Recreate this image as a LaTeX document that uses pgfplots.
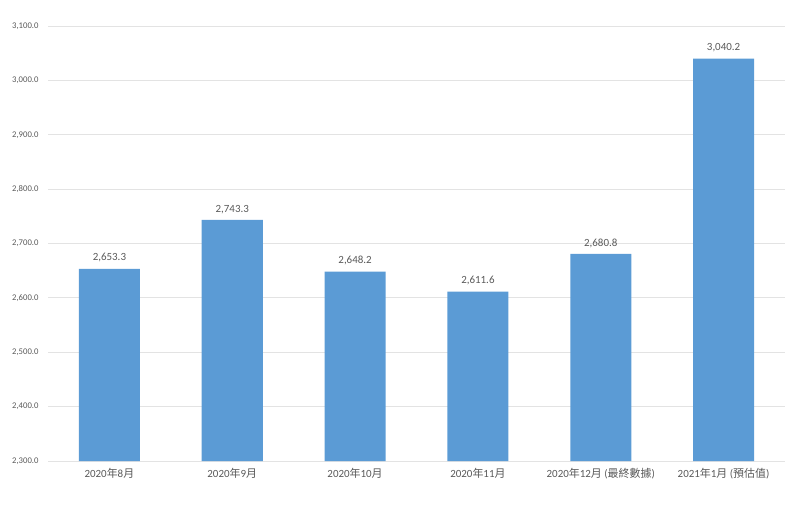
\documentclass[border=0pt]{standalone}
\usepackage{pgfplots}
\pgfplotsset{compat=1.18}
\usepackage{fontspec}
\setmainfont{Carlito}
\newfontfamily\cjk{Noto Sans CJK TC}
\definecolor{barblue}{HTML}{5B9BD5}
\definecolor{gridgray}{HTML}{E3E3E3}
\definecolor{txtgray}{HTML}{595959}
\begin{document}
\begin{tikzpicture}
\path (-48bp,-44bp) rectangle (752bp,461bp);
\begin{axis}[
  at={(0,0)}, anchor=south west,
  scale only axis,
  width=737bp, height=435bp,
  xmin=-0.5, xmax=5.5,
  ymin=2300, ymax=3100,
  ytick={2300,2400,...,3100},
  xtick={0,1,2,3,4,5},
  xticklabels={
    {2020{\cjk 年}8{\cjk 月}},
    {2020{\cjk 年}9{\cjk 月}},
    {2020{\cjk 年}10{\cjk 月}},
    {2020{\cjk 年}11{\cjk 月}},
    {2020{\cjk 年}12{\cjk 月} ({\cjk 最終數據})},
    {2021{\cjk 年}1{\cjk 月} ({\cjk 預估值})}},
  axis x line*=bottom,
  axis y line*=left,
  x axis line style={draw=gridgray, line width=0.8bp, -},
  y axis line style={draw=none},
  ymajorgrids,
  grid style={draw=gridgray, line width=0.8bp},
  major tick length=0pt,
  xtick style={draw=none},
  ytick style={draw=none},
  yticklabel style={font=\fontsize{8.7}{10}\selectfont, text=txtgray, xshift=-6bp},
  xticklabel style={font=\fontsize{11}{13}\selectfont, text=txtgray, yshift=-4bp},
  /pgf/number format/assume math mode=true,
  yticklabel={\pgfmathprintnumber[fixed, fixed zerofill, precision=1, 1000 sep={,}]{\tick}},
  clip=false,
  nodes near coords={\pgfmathprintnumber[fixed, fixed zerofill, precision=1, 1000 sep={,}]{\pgfplotspointmeta}},
  nodes near coords style={font=\fontsize{11}{13}\selectfont, text=txtgray, yshift=3bp},
  point meta=explicit,
]
\addplot[ybar, bar width=61bp, fill=barblue, draw=none] coordinates {
  (0,2653.3) [2653.3]
  (1,2743.3) [2743.3]
  (2,2648.2) [2648.2]
  (3,2611.6) [2611.6]
  (4,2680.8) [2680.8]
  (5,3040.2) [3040.2]
};
\end{axis}
\end{tikzpicture}
\end{document}
